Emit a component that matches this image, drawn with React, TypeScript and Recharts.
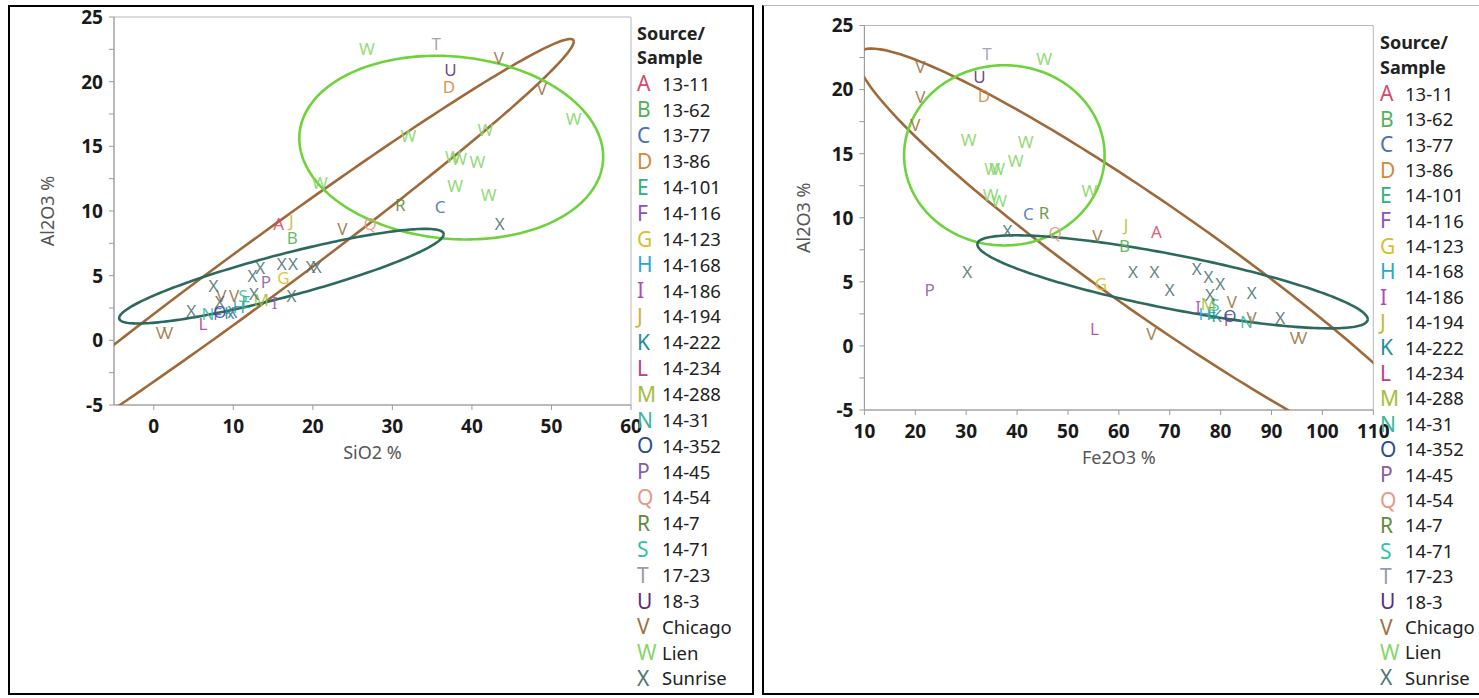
// Two JMP-style bivariate plots (SiO2 / Fe2O3 vs Al2O3) with letter markers and density ellipses.
import { ReferenceArea, Scatter, ScatterChart, XAxis, YAxis } from "recharts";

const CODES = ["A","B","C","D","E","F","G","H","I","J","K","L","M","N","O","P","Q","R","S","T","U","V","W","X"];
const LABELS = ["13-11","13-62","13-77","13-86","14-101","14-116","14-123","14-168","14-186","14-194","14-222","14-234","14-288","14-31","14-352","14-45","14-54","14-7","14-71","17-23","18-3","Chicago","Lien","Sunrise"];
const COLORS = ["#D7486A","#55B05A","#4B6FB5","#D1893A","#2DB07A","#8A4FC4","#D6C02A","#2AA7D0","#B04AB8","#C2B838","#1E8C9E","#C13A8C","#A3BE3C","#3FB49A","#2E4C8E","#8C5AA8","#E39A8A","#5E8A3A","#2FC2A4","#9A9AAE","#5B2E7E","#9C7244","#86D66A","#4C7474"];

// left panel: SiO2 % vs Al2O3 %
const leftCode = ["A","J","B","C","D","U","T","R","Q","G","P","L","N","O","F","K","S","E","H","M","I",
  "V","V","V","V","V","V","V",
  "W","W","W","W","W","W","W","W","W","W",
  "X","X","X","X","X","X","X","X","X","X","X","X","X"];
const leftSiO2 = [15.7,17.3,17.4,36.0,37.1,37.3,35.5,31.0,27.2,16.3,14.1,6.2,6.8,8.3,8.0,9.5,11.2,11.6,10.7,13.5,15.2,
  0.9,1.8,8.5,10.1,23.7,43.4,48.8,
  26.8,52.8,32.0,41.7,38.4,40.7,37.6,37.9,42.1,20.9,
  43.5,16.1,17.5,19.7,20.5,13.4,12.4,7.5,4.7,12.6,17.3,9.9,8.3];
const leftAl2O3 = [9.0,9.2,7.9,10.3,19.6,20.9,22.9,10.5,9.0,4.8,4.5,1.3,2.0,2.2,2.0,2.1,3.4,3.0,2.6,3.1,2.9,
  0.6,0.6,3.4,3.4,8.6,21.8,19.4,
  22.5,17.1,15.8,16.3,14.0,13.8,14.2,11.9,11.2,12.2,
  9.0,5.9,5.9,5.7,5.7,5.6,5.0,4.2,2.3,3.6,3.4,2.2,3.0];

// right panel: Fe2O3 % vs Al2O3 %
const rightCode = ["T","U","D","C","R","Q","J","B","A","P","G","L","I","M","S","H","K","O","F","E","N",
  "V","V","V","V","V","V","V","V","V",
  "W","W","W","W","W","W","W","W","W",
  "X","X","X","X","X","X","X","X","X","X","X"];
const rightFe2O3 = [34.1,32.6,33.5,42.2,45.3,47.5,61.4,61.1,67.4,22.8,56.5,55.2,75.6,77.6,78.9,76.9,79.2,81.8,81.5,78.3,85.1,
  21.0,21.0,20.0,55.8,66.4,94.6,96.0,86.1,82.2,
  45.3,30.5,41.7,39.7,35.1,36.1,34.8,36.5,54.2,
  38.1,30.2,62.8,67.0,70.0,75.3,77.6,79.9,86.1,91.7,77.9];
const rightAl2O3 = [22.8,21.0,19.5,10.3,10.4,8.8,9.4,7.8,8.9,4.4,4.8,1.3,3.0,3.3,3.2,2.5,2.3,2.3,2.0,2.6,1.9,
  21.8,19.4,17.2,8.6,0.9,0.6,0.6,2.2,3.4,
  22.4,16.1,15.9,14.4,13.8,13.8,11.8,11.3,12.1,
  9.0,5.8,5.8,5.8,4.4,6.0,5.4,4.8,4.1,2.2,4.0];

// density ellipses: centre, spread and correlation, in data units
const ELLIPSE_GROUPS = ["Chicago", "Lien", "Sunrise"];
const ELLIPSE_COLORS = ["#A0693A", "#6ED23C", "#2B6A5C"];
const leftEllipses = [
  { cx: 12, cy: 4.8, sx: 40.8, sy: 18.5, rho: 0.989 },
  { cx: 37.4, cy: 14.9, sx: 19.1, sy: 7.1, rho: -0.1 },
  { cx: 16.05, cy: 4.96, sx: 20.4, sy: 3.66, rho: 0.885 },
];
const rightEllipses = [
  { cx: 68, cy: 6.4, sx: 59.4, sy: 16.8, rho: -0.953 },
  { cx: 37.5, cy: 14.87, sx: 19.7, sy: 7.03, rho: 0 },
  { cx: 70.55, cy: 5.0, sx: 38.35, sy: 3.63, rho: -0.805 },
];

const leftXTicks = [0, 10, 20, 30, 40, 50, 60];
const rightXTicks = [10, 20, 30, 40, 50, 60, 70, 80, 90, 100, 110];
const yTicks = [-5, -2.5, 0, 2.5, 5, 7.5, 10, 12.5, 15, 17.5, 20, 22.5, 25];

type E = { cx: number; cy: number; sx: number; sy: number; rho: number };
function ellipseRing(e: E) {
  const pts: { x: number; y: number }[] = [];
  const k = Math.sqrt(1 - e.rho * e.rho);
  for (let i = 0; i <= 240; i++) {
    const t = (2 * Math.PI * i) / 240;
    pts.push({ x: e.cx + e.sx * Math.cos(t), y: e.cy + e.sy * (e.rho * Math.cos(t) + k * Math.sin(t)) });
  }
  return pts;
}

function groupPoints(codes: string[], xs: number[], ys: number[]) {
  return CODES.map((c) => ({
    code: c,
    data: codes.map((cc, i) => (cc === c ? { x: xs[i], y: ys[i] } : null)).filter(Boolean) as { x: number; y: number }[],
  })).filter((g) => g.data.length);
}

const FONT = "'Noto Sans', 'DejaVu Sans', sans-serif";

function XTick(p: any) {
  return (
    <text x={p.x} y={p.y} dy="0.71em" textAnchor="middle" fontSize={19} fontWeight={700} fill="#1a1a1a" fontFamily={FONT}>
      {p.payload.value}
    </text>
  );
}
function YTick(p: any) {
  const v = p.payload.value;
  if (v % 5 !== 0) return <g />;
  return (
    <text x={p.x} y={p.y} dy="0.36em" textAnchor="end" fontSize={19} fontWeight={700} fill="#1a1a1a" fontFamily={FONT}>
      {v}
    </text>
  );
}

function Panel(props: {
  left: number; width: number; height: number; margin: { top: number; right: number; bottom: number; left: number };
  xDomain: [number, number]; xTicks: number[]; xTitle: string; yLabelOffset: number;
  codes: string[]; xs: number[]; ys: number[]; ellipses: E[];
}) {
  const groups = groupPoints(props.codes, props.xs, props.ys);
  return (
    <div style={{ position: "absolute", left: props.left, top: 0 }}>
      <ScatterChart width={props.width} height={props.height} margin={props.margin}>
        <XAxis type="number" dataKey="x" domain={props.xDomain} allowDataOverflow ticks={props.xTicks} interval={0}
          tickSize={5} tickMargin={10} stroke="#9a9a9a" height={55} tick={<XTick />}
          label={{ value: props.xTitle, position: "insideBottom", offset: 1, fill: "#555", fontSize: 18 }} />
        <YAxis type="number" dataKey="y" domain={[-5, 25]} allowDataOverflow ticks={yTicks} interval={0}
          tickSize={5} tickMargin={6} stroke="#9a9a9a" width={80} tick={<YTick />}
          label={{ value: "Al2O3 %", angle: -90, position: "insideLeft", offset: props.yLabelOffset, fill: "#555", fontSize: 18, style: { textAnchor: "middle" } }} />
        <ReferenceArea x1={props.xDomain[0]} x2={props.xDomain[1]} y1={-5} y2={25} fill="none" stroke="#b8b8b8" strokeWidth={1} />
        {props.ellipses.map((e, i) => (
          <Scatter key={ELLIPSE_GROUPS[i]} data={ellipseRing(e)} isAnimationActive={false}
            line={{ stroke: ELLIPSE_COLORS[i], strokeWidth: 2.6 }} lineType="joint"
            shape={() => <g />} />
        ))}
        {groups.map((g) => {
          const color = COLORS[CODES.indexOf(g.code)];
          return (
            <Scatter key={g.code} data={g.data} isAnimationActive={false}
              shape={(p: any) => (
                <text x={p.cx} y={p.cy} dy={6} textAnchor="middle" fontSize={17} fill={color} fillOpacity={0.9} fontFamily={FONT}>
                  {g.code}
                </text>
              )} />
          );
        })}
      </ScatterChart>
    </div>
  );
}

function LegendBox(props: { left: number; top: number; headLine: number; gap: number; row: number }) {
  return (
    <div style={{ position: "absolute", left: props.left, top: props.top, fontFamily: FONT, color: "#222" }}>
      <div style={{ fontWeight: 700, fontSize: 18, lineHeight: `${props.headLine}px` }}>Source/</div>
      <div style={{ fontWeight: 700, fontSize: 18, lineHeight: `${props.headLine}px`, marginBottom: props.gap }}>Sample</div>
      {CODES.map((c, i) => (
        <div key={c} style={{ display: "flex", alignItems: "center", height: props.row }}>
          <span style={{ width: 25, fontSize: 21, color: COLORS[i], lineHeight: 1 }}>{c}</span>
          <span style={{ fontSize: 18.5, lineHeight: 1 }}>{LABELS[i]}</span>
        </div>
      ))}
    </div>
  );
}

export default function App() {
  return (
    <div style={{ position: "absolute", left: 0, top: 0, width: 1479, height: 698, background: "#fff", fontFamily: FONT, overflow: "hidden" }}>
      <div style={{ position: "absolute", left: 8, top: 5, width: 746, height: 690, border: "2px solid #000", boxSizing: "border-box" }} />
      <div style={{ position: "absolute", left: 762, top: 5, width: 730, height: 690, borderLeft: "2px solid #000", borderTop: "1px solid #bbb", borderBottom: "2px solid #000", boxSizing: "border-box" }} />
      <Panel left={0} width={655} height={470} margin={{ top: 17, right: 24, bottom: 10, left: 34 }}
        xDomain={[-5, 60]} xTicks={leftXTicks} xTitle="SiO2 %" yLabelOffset={14}
        codes={leftCode} xs={leftSiO2} ys={leftAl2O3} ellipses={leftEllipses} />
      <Panel left={750} width={645} height={475} margin={{ top: 25.5, right: 21.7, bottom: 10, left: 34.4 }}
        xDomain={[10, 110]} xTicks={rightXTicks} xTitle="Fe2O3 %" yLabelOffset={19}
        codes={rightCode} xs={rightFe2O3} ys={rightAl2O3} ellipses={rightEllipses} />
      <LegendBox left={637} top={21} headLine={24} gap={2} row={25.87} />
      <LegendBox left={1380} top={29.5} headLine={25} gap={1.8} row={25.4} />
    </div>
  );
}
